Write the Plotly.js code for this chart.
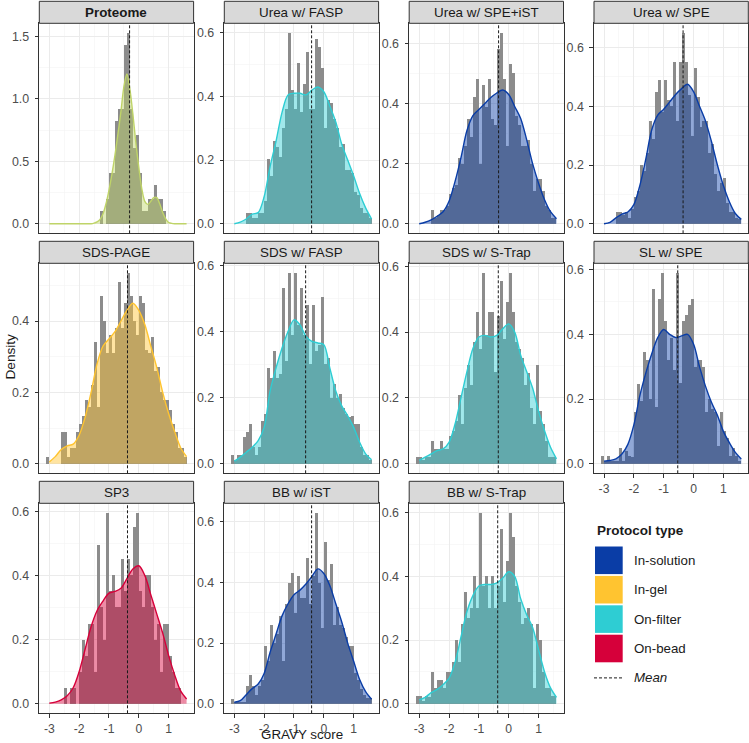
<!DOCTYPE html>
<html>
<head>
<meta charset="utf-8">
<script src="https://cdn.plot.ly/plotly-3.0.1.min.js"></script>
<style>html,body{margin:0;padding:0;background:#fff}</style>
</head>
<body>
<div id="chart" style="width:749px;height:743px"></div>
<script>
// GRAVY score distributions: histogram (binwidth 0.1) + kernel density, one facet per protocol

const panelNames = ["Proteome", "Urea w/ FASP", "Urea w/ SPE+iST", "Urea w/ SPE",
  "SDS-PAGE", "SDS w/ FASP", "SDS w/ S-Trap", "SL w/ SPE",
  "SP3", "BB w/ iST", "BB w/ S-Trap"];
const panelTypes = ["Proteome", "On-filter", "In-solution", "In-solution",
  "In-gel", "On-filter", "On-filter", "In-solution",
  "On-bead", "In-solution", "On-filter"];
const panelMeans = [-0.31, -0.41, -0.34, -0.35, -0.38, -0.61, -0.35, -0.53, -0.38, -0.41, -0.37];

const legendTypes = ["In-solution", "In-gel", "On-filter", "On-bead"];

const binCenters = [-3.05,-2.95,-2.85,-2.75,-2.65,-2.55,-2.45,-2.35,-2.25,-2.15,
  -2.05,-1.95,-1.85,-1.75,-1.65,-1.55,-1.45,-1.35,-1.25,-1.15,
  -1.05,-0.95,-0.85,-0.75,-0.65,-0.55,-0.45,-0.35,-0.25,-0.15,
  -0.05,0.05,0.15,0.25,0.35,0.45,0.55,0.65,0.75,0.85,
  0.95,1.05,1.15,1.25,1.35,1.45,1.55];

// histogram densities per panel (one value per bin above)
const histProteome = [0,0,0,0,0,0,0,0,0,0,
  0,0,0,0,0,0,0,0,0.10,0,
  0.20,0.41,0.41,0.82,0.92,0.92,1.43,1.53,0.92,0.61,
  0.71,0.41,0.10,0.10,0.20,0.20,0.31,0.20,0.20,0.10,
  0,0,0,0,0,0,0];
const histUreaFASP = [0,0,0,0,0,0.035,0.035,0.018,0.018,0.035,
  0.035,0.07,0.205,0.15,0.26,0.24,0.21,0.30,0.36,0.60,
  0.42,0.36,0.505,0.35,0.44,0.54,0.36,0.36,0.58,0.555,
  0.49,0.30,0.39,0.38,0.33,0.30,0.24,0.25,0.17,0.17,
  0.16,0.10,0.09,0.05,0.035,0.035,0.017];
const histUreaSPEiST = [0,0,0,0,0,0.045,0.02,0.03,0.045,0.045,
  0.06,0.10,0.12,0.13,0.22,0.20,0.26,0.35,0.29,0.42,
  0.48,0.20,0.46,0.39,0.48,0.35,0.33,0.58,0.635,0.48,
  0.26,0.53,0.50,0.36,0.33,0.26,0.26,0.28,0.20,0.11,
  0.15,0.15,0.11,0.06,0.045,0.02,0.02];
const histUreaSPE = [0,0,0,0,0,0.04,0.04,0.03,0.04,0.02,
  0.05,0.09,0.11,0.20,0.18,0.24,0.35,0.29,0.45,0.49,
  0.38,0.49,0.42,0.40,0.55,0.35,0.55,0.65,0.55,0.44,
  0.30,0.53,0.43,0.33,0.35,0.35,0.24,0.27,0.17,0.11,
  0.14,0.155,0.07,0.04,0.04,0.02,0.015];
const histSDSPAGE = [0.02,0,0,0,0,0.09,0.09,0.02,0.045,0.045,
  0.09,0.11,0.135,0.18,0.16,0.22,0.34,0.16,0.47,0.40,
  0.31,0.36,0.31,0.38,0.51,0.38,0.45,0.535,0.47,0.40,
  0.36,0.47,0.45,0.32,0.31,0.355,0.26,0.27,0.20,0.18,
  0.18,0.15,0.11,0.09,0.045,0.045,0.02];
const histSDSFASP = [0.025,0.01,0.025,0.025,0.08,0.095,0.12,0.05,0.025,0.05,
  0.13,0.15,0.29,0.26,0.34,0.26,0.27,0.53,0.31,0.577,
  0.39,0.577,0.42,0.53,0.39,0.48,0.30,0.48,0.34,0.36,
  0.505,0.30,0.32,0.20,0.24,0.20,0.21,0.17,0.15,0.14,
  0.145,0.12,0.12,0.05,0.025,0.025,0.01];
const histSDSSTrap = [0.02,0.02,0.01,0.02,0.02,0.07,0.045,0.045,0.07,0.045,
  0.045,0.085,0.10,0.13,0.21,0.12,0.23,0.30,0.24,0.37,
  0.46,0.35,0.58,0.39,0.46,0.46,0.28,0.45,0.555,0.38,
  0.49,0.58,0.46,0.37,0.35,0.32,0.24,0.275,0.17,0.12,
  0.30,0.16,0.12,0.07,0.02,0.02,0.02];
const histSLSPE = [0.025,0.01,0.025,0.01,0.01,0.01,0.05,0.01,0.04,0.025,
  0.02,0.16,0.245,0.195,0.345,0.32,0.20,0.54,0.175,0.51,
  0.59,0.44,0.32,0.39,0.29,0.59,0.25,0.44,0.46,0.49,
  0.51,0.30,0.32,0.32,0.30,0.16,0.20,0.17,0.16,0.055,
  0.16,0.10,0.08,0.025,0.05,0.025,0.01];
const histSP3 = [0,0,0,0,0,0,0.05,0,0.05,0.05,
  0,0.10,0.20,0.15,0.25,0.25,0.10,0.495,0.30,0.20,
  0.595,0.35,0.40,0.30,0.30,0.45,0.35,0.45,0.40,0.55,
  0.595,0.35,0.30,0.40,0.40,0.30,0.20,0.25,0.10,0.25,
  0.25,0.15,0.10,0.05,0.05,0,0];
const histBBiST = [0.015,0.005,0.005,0.005,0.005,0.06,0.095,0.06,0.03,0.06,
  0.08,0.19,0.14,0.26,0.20,0.23,0.29,0.14,0.33,0.40,
  0.43,0.30,0.42,0.35,0.35,0.48,0.33,0.42,0.63,0.40,
  0.25,0.535,0.41,0.46,0.26,0.32,0.26,0.25,0.22,0.19,
  0.19,0.10,0.08,0.05,0.03,0.02,0.02];
const histBBSTrap = [0.025,0.025,0.01,0.025,0.02,0.10,0.05,0.075,0.075,0.05,
  0.10,0.10,0.13,0.20,0.13,0.25,0.35,0.27,0.30,0.40,
  0.30,0.60,0.37,0.40,0.30,0.40,0.30,0.37,0.55,0.32,
  0.45,0.60,0.525,0.37,0.32,0.25,0.27,0.30,0.25,0.05,
  0.25,0.20,0.10,0.05,0.05,0.025,0.025];

// kernel density estimates
const densGrid = [-3.0,-2.8,-2.6,-2.4,-2.2,-2.0,-1.8,-1.6,-1.4,-1.2,-1.0,-0.8,
  -0.6,-0.4,-0.2,0.0,0.2,0.4,0.6,0.8,1.0,1.2,1.4,1.6];
const densGridFine = [-3.0,-2.9,-2.8,-2.7,-2.6,-2.5,-2.4,-2.3,-2.2,-2.1,
  -2.0,-1.9,-1.8,-1.7,-1.6,-1.5,-1.4,-1.3,-1.2,-1.1,
  -1.0,-0.9,-0.8,-0.7,-0.6,-0.5,-0.4,-0.3,-0.2,-0.1,
  0.0,0.1,0.2,0.3,0.4,0.5,0.6,0.7,0.8,0.9,
  1.0,1.1,1.2,1.3,1.4,1.5,1.6];
const densProteome = [0,0,0,0,0,0,0,0,0,0,
  0,0,0,0,0,0.005,0.015,0.035,0.08,0.16,
  0.27,0.40,0.55,0.72,0.90,1.10,1.20,1.08,0.88,0.65,
  0.45,0.28,0.18,0.155,0.18,0.21,0.21,0.16,0.09,0.04,
  0.01,0.003,0,0,0,0,0];
const densUreaFASP = [0,0.005,0.015,0.03,0.035,0.085,0.18,0.26,0.35,0.405,0.41,0.41,
  0.405,0.42,0.43,0.415,0.37,0.32,0.25,0.20,0.15,0.095,0.05,0.015];
const densUreaSPEiST = [0,0.005,0.013,0.025,0.04,0.075,0.14,0.22,0.31,0.36,0.38,0.40,
  0.42,0.435,0.445,0.43,0.39,0.35,0.28,0.20,0.135,0.08,0.04,0.017];
const densUreaSPE = [0,0.005,0.02,0.033,0.04,0.065,0.13,0.22,0.32,0.37,0.39,0.415,
  0.44,0.46,0.475,0.45,0.40,0.35,0.28,0.20,0.13,0.075,0.035,0.015];
const densSDSPAGE = [0.005,0.02,0.04,0.05,0.055,0.08,0.13,0.20,0.28,0.33,0.35,0.37,
  0.40,0.43,0.45,0.43,0.39,0.33,0.27,0.20,0.14,0.09,0.045,0.02];
const densSDSFASP = [0.008,0.02,0.035,0.05,0.07,0.11,0.22,0.29,0.35,0.40,0.435,0.42,
  0.385,0.37,0.365,0.36,0.29,0.22,0.175,0.145,0.11,0.065,0.03,0.012];
const densSDSSTrap = [0.01,0.02,0.03,0.04,0.045,0.065,0.12,0.20,0.28,0.35,0.385,0.39,
  0.385,0.39,0.41,0.425,0.40,0.33,0.28,0.23,0.16,0.10,0.05,0.015];
const densSLSPE = [0.008,0.01,0.015,0.03,0.06,0.12,0.21,0.28,0.34,0.39,0.415,0.40,
  0.39,0.395,0.40,0.37,0.30,0.24,0.19,0.15,0.10,0.065,0.035,0.015];
const densSP3 = [0.002,0.005,0.012,0.025,0.05,0.10,0.17,0.24,0.29,0.32,0.345,0.35,
  0.36,0.39,0.42,0.43,0.40,0.34,0.28,0.22,0.15,0.09,0.04,0.015];
const densBBiST = [0.005,0.01,0.03,0.05,0.065,0.10,0.17,0.23,0.29,0.33,0.36,0.375,
  0.395,0.42,0.445,0.43,0.39,0.33,0.27,0.20,0.14,0.08,0.04,0.015];
const densBBSTrap = [0.012,0.02,0.035,0.045,0.06,0.08,0.13,0.21,0.29,0.34,0.37,0.375,
  0.375,0.38,0.395,0.415,0.40,0.33,0.28,0.24,0.17,0.10,0.05,0.02];

const panelHist = [histProteome, histUreaFASP, histUreaSPEiST, histUreaSPE, histSDSPAGE,
  histSDSFASP, histSDSSTrap, histSLSPE, histSP3, histBBiST, histBBSTrap];
const panelDens = [densProteome, densUreaFASP, densUreaSPEiST, densUreaSPE, densSDSPAGE,
  densSDSFASP, densSDSSTrap, densSLSPE, densSP3, densBBiST, densBBSTrap];
const panelDensX = [densGridFine, densGrid, densGrid, densGrid, densGrid,
  densGrid, densGrid, densGrid, densGrid, densGrid, densGrid];

const xTicks = [-3, -2, -1, 0, 1];
const xTickText = ["-3", "-2", "-1", "0", "1"];

// ---- styling ----
const FONT = "Liberation Sans, Arial, Helvetica, sans-serif";
const typeColors = {
  "Proteome": "#BFD468",
  "In-solution": "#0A3DA6",
  "In-gel": "#FFC430",
  "On-filter": "#2ECDD3",
  "On-bead": "#D6003A"
};
const FILL_ALPHA = 0.45;
const BAR_GREY = "#8C8C8C";

function rgba(hex, a) {
  const n = parseInt(hex.slice(1), 16);
  return `rgba(${(n >> 16) & 255},${(n >> 8) & 255},${n & 255},${a})`;
}

const W = 749, H = 743;
const px = v => v / W;
const py = v => 1 - v / H;
const colLeft = [39.3, 224.3, 409.2, 594];
const panelW = 154.3;
const rowTop = [23.3, 263.3, 503.3];
const panelH = 210;
const stripH = 22;

// shared x range: bin edges padded by 5%
const binLo = binCenters[0] - 0.05, binHi = binCenters[binCenters.length - 1] + 0.05;
const xPad = (binHi - binLo) * 0.05;
const xRange = [binLo - xPad, binHi + xPad];

const traces = [];
const shapes = [];
const annotations = [];
const layout = {
  width: W, height: H,
  margin: {l: 0, r: 0, t: 0, b: 0},
  paper_bgcolor: "#ffffff",
  plot_bgcolor: "#ffffff",
  showlegend: false,
  barmode: "overlay",
  bargap: 0,
  font: {family: FONT, color: "#1A1A1A"}
};

panelNames.forEach((name, i) => {
  const r = Math.floor(i / 4), c = i % 4;
  const sfx = i === 0 ? "" : String(i + 1);
  const xref = "x" + sfx, yref = "y" + sfx;
  const color = typeColors[panelTypes[i]];
  const hist = panelHist[i], dens = panelDens[i];

  const yMax = Math.max(Math.max(...hist), Math.max(...dens));
  const yRange = [-0.05 * yMax, 1.05 * yMax];
  const step = yMax > 1 ? 0.5 : 0.2;
  const yTicks = [], yTickText = [], yMinor = [];
  for (let k = 0; k * step <= yRange[1] + 1e-9; k++) {
    yTicks.push(k * step);
    yTickText.push((k * step).toFixed(1));
    if ((k + 0.5) * step < yRange[1]) yMinor.push((k + 0.5) * step);
  }
  const showX = r === 2 || i === 7;

  layout["xaxis" + sfx] = {
    domain: [px(colLeft[c]), px(colLeft[c] + panelW)],
    range: xRange, anchor: yref,
    showline: true, mirror: true, linecolor: "#333333", linewidth: 1,
    ticks: showX ? "outside" : "", ticklen: 3.7, tickwidth: 1, tickcolor: "#333333",
    showticklabels: showX, ticklabelstandoff: 0,
    tickmode: "array", tickvals: xTicks, ticktext: xTickText,
    tickfont: {family: FONT, size: 12.2, color: "#4D4D4D"},
    showgrid: true, gridcolor: "#EBEBEB", gridwidth: 1,
    minor: {tickmode: "array", tickvals: [-2.5, -1.5, -0.5, 0.5, 1.5],
            showgrid: true, gridcolor: "#F4F4F4", gridwidth: 0.6, ticks: ""},
    zeroline: false, fixedrange: true
  };
  layout["yaxis" + sfx] = {
    domain: [py(rowTop[r] + panelH), py(rowTop[r])],
    range: yRange, anchor: xref,
    showline: true, mirror: true, linecolor: "#333333", linewidth: 1,
    ticks: "outside", ticklen: 3.7, tickwidth: 1, tickcolor: "#333333",
    ticklabelstandoff: 3,
    tickmode: "array", tickvals: yTicks, ticktext: yTickText,
    tickfont: {family: FONT, size: 12.4, color: "#4D4D4D"},
    showgrid: true, gridcolor: "#EBEBEB", gridwidth: 1,
    minor: {tickmode: "array", tickvals: yMinor,
            showgrid: true, gridcolor: "#F4F4F4", gridwidth: 0.6, ticks: ""},
    zeroline: false, fixedrange: true
  };

  // histogram bars
  traces.push({
    type: "bar", x: binCenters, y: hist, width: 0.1,
    xaxis: xref, yaxis: yref,
    marker: {color: BAR_GREY, line: {width: 0}},
    hoverinfo: "skip"
  });
  // density curve with translucent fill
  traces.push({
    type: "scatter", mode: "lines", x: panelDensX[i], y: dens,
    xaxis: xref, yaxis: yref,
    line: {color: color, width: 1.4, shape: "spline", smoothing: 0.9},
    fill: "tozeroy", fillcolor: rgba(color, FILL_ALPHA),
    hoverinfo: "skip"
  });

  // mean line spanning the full panel height
  shapes.push({
    type: "line", xref: xref, yref: yref + " domain",
    x0: panelMeans[i], x1: panelMeans[i], y0: 0, y1: 1,
    line: {color: "#1A1A1A", width: 1, dash: "3px,2px"}, layer: "above"
  });

  // facet strip
  shapes.push({
    type: "rect", xref: "paper", yref: "paper",
    x0: px(colLeft[c]), x1: px(colLeft[c] + panelW),
    y0: py(rowTop[r]), y1: py(rowTop[r] - stripH),
    fillcolor: "#D9D9D9", line: {color: "#333333", width: 1}, layer: "above"
  });
  annotations.push({
    xref: "paper", yref: "paper",
    x: px(colLeft[c] + panelW / 2), y: py(rowTop[r] - stripH / 2),
    text: i === 0 ? "<b>" + name + "</b>" : name,
    showarrow: false, xanchor: "center", yanchor: "middle",
    font: {family: FONT, size: 13.4, color: "#1A1A1A"}
  });
});

// axis titles
annotations.push({
  xref: "paper", yref: "paper", x: px(302), y: 0,
  text: "GRAVY score", showarrow: false, xanchor: "center", yanchor: "bottom",
  borderpad: 0,
  font: {family: FONT, size: 13.4, color: "#1A1A1A"}
});
annotations.push({
  xref: "paper", yref: "paper", x: px(10.5), y: py(357),
  text: "Density", textangle: -90, showarrow: false, xanchor: "center", yanchor: "middle",
  font: {family: FONT, size: 13.6, color: "#1A1A1A"}
});

// legend
const legX = 595, keyW = 27.7, keyH = 27.6, keyTop = 546.5, keyStep = 29.4, textX = 632.3;
annotations.push({
  xref: "paper", yref: "paper", x: px(legX), y: py(530),
  text: "<b>Protocol type</b>", showarrow: false, xanchor: "left", yanchor: "middle",
  font: {family: FONT, size: 13.5, color: "#1A1A1A"}
});
legendTypes.forEach((t, k) => {
  const top = keyTop + k * keyStep;
  shapes.push({
    type: "rect", xref: "paper", yref: "paper",
    x0: px(legX), x1: px(legX + keyW), y0: py(top + keyH), y1: py(top),
    fillcolor: typeColors[t], line: {width: 0}
  });
  annotations.push({
    xref: "paper", yref: "paper", x: px(textX), y: py(top + keyH / 2),
    text: t, showarrow: false, xanchor: "left", yanchor: "middle",
    font: {family: FONT, size: 13.3, color: "#1A1A1A"}
  });
});
const meanKeyY = keyTop + 4 * keyStep + keyH / 2;
shapes.push({
  type: "line", xref: "paper", yref: "paper",
  x0: px(legX - 1), x1: px(legX + keyW + 0.5), y0: py(meanKeyY), y1: py(meanKeyY),
  line: {color: "#1A1A1A", width: 1, dash: "3px,2px"}
});
annotations.push({
  xref: "paper", yref: "paper", x: px(textX), y: py(meanKeyY),
  text: "<i>Mean</i>", showarrow: false, xanchor: "left", yanchor: "middle",
  font: {family: FONT, size: 13.3, color: "#1A1A1A"}
});

layout.shapes = shapes;
layout.annotations = annotations;

Plotly.newPlot("chart", traces, layout, {displayModeBar: false, staticPlot: true});
</script>
</body>
</html>
